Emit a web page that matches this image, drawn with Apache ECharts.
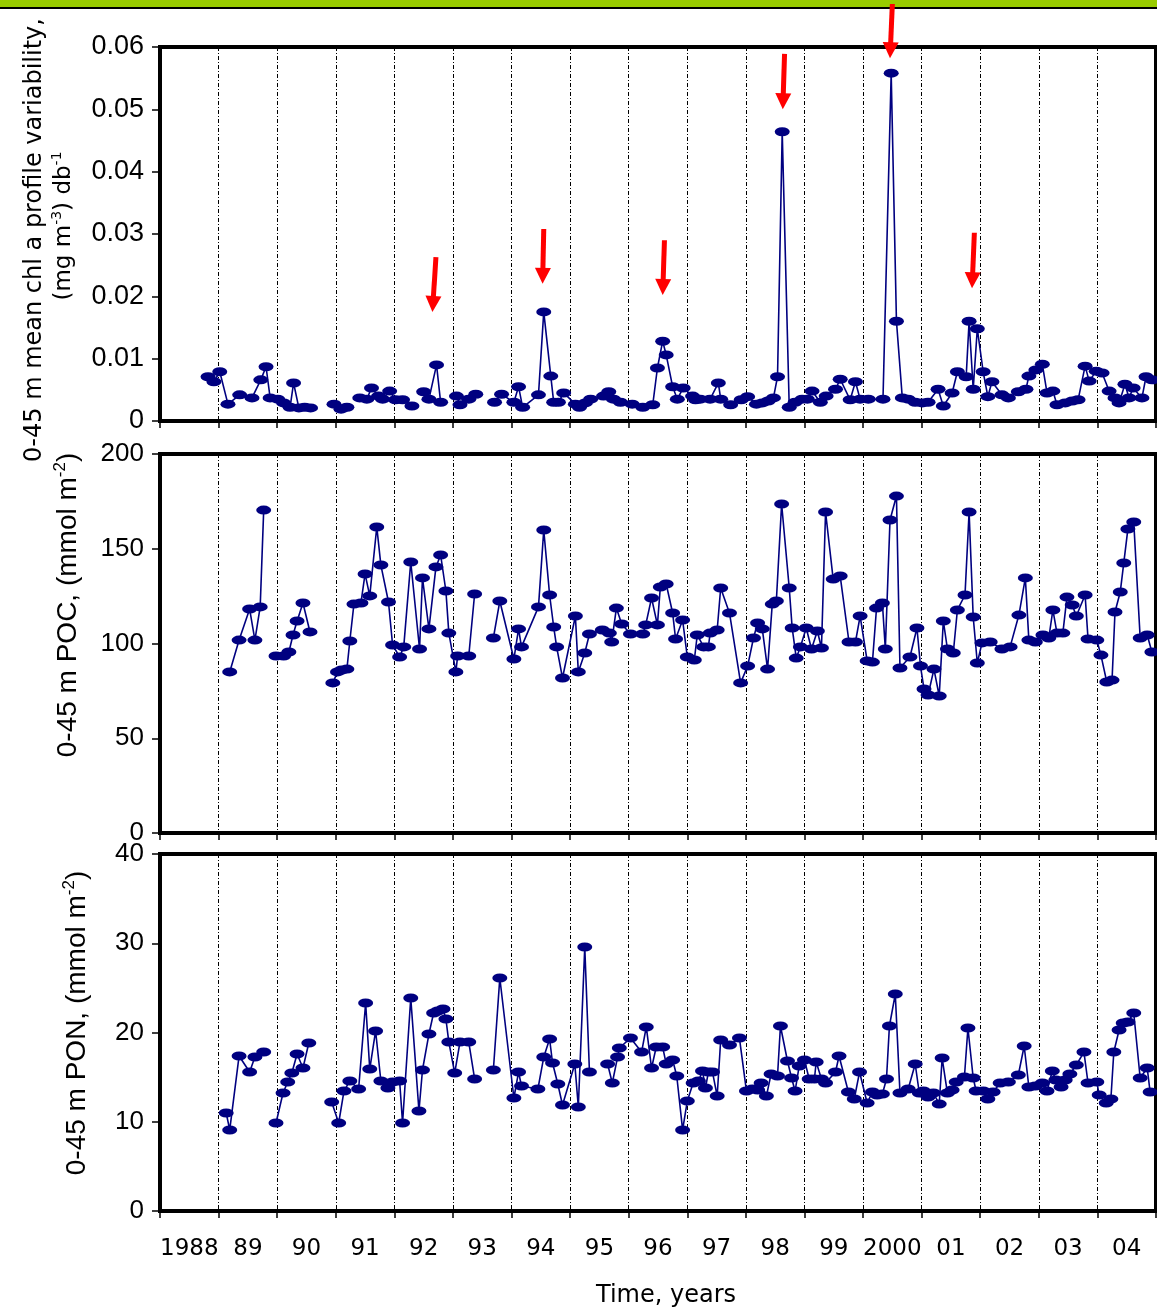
<!DOCTYPE html>
<html>
<head>
<meta charset="utf-8">
<title>0-45 m chl a variability, POC and PON time series</title>
<script src="https://cdn.jsdelivr.net/npm/echarts@6/dist/echarts.min.js"></script>
<style>
  html, body { margin: 0; padding: 0; background: #ffffff; }
  #chart { width: 1157px; height: 1312px; }
</style>
</head>
<body>
<div id="chart"></div>
<script>
// Year labels shown under the bottom panel, one per calendar year
const yearLabels = ['1988', '89', '90', '91', '92', '93', '94', '95', '96', '97', '98', '99', '2000', '01', '02', '03', '04'];

// 0-45 m mean chl a profile variability (mg m-3 db-1); null marks a gap in the record
const chlYear = [
  1988.82, 1988.92, 1989.02, 1989.16, 1989.36, 1989.57, 1989.72, 1989.81, 1989.88,
  1990.01, 1990.11, 1990.22, 1990.28, 1990.37, 1990.47, 1990.57, null,
  1990.97, 1991.09, 1991.19, null,
  1991.41, 1991.53, 1991.61, 1991.73, 1991.80, 1991.92, 1992.02, 1992.14, 1992.30, null,
  1992.50, 1992.59, 1992.72, 1992.79, null,
  1993.06, 1993.12, 1993.27, 1993.39, null,
  1993.71, 1993.83, 1994.04, 1994.12, 1994.19, 1994.46, 1994.55, 1994.67, 1994.72, 1994.80,
  1994.89, 1995.09, 1995.16, 1995.26, 1995.35, 1995.57, 1995.66, 1995.74, 1995.86, 1996.06,
  1996.24, 1996.41, 1996.49, 1996.58, 1996.64, 1996.75, 1996.83, 1996.93, 1997.09, 1997.14,
  1997.22, 1997.39, 1997.53, 1997.57, 1997.74, 1997.92, 1998.03, 1998.18, 1998.28, 1998.38,
  1998.47, 1998.54, 1998.62, 1998.74, 1998.84, 1998.96, 1999.05, 1999.13, 1999.27, 1999.37,
  1999.53, 1999.61, 1999.78, 1999.87, 1999.95, 2000.09, 2000.34, 2000.48, 2000.57, 2000.67,
  2000.77, 2000.89, 2001.01, 2001.11, 2001.28, 2001.37, 2001.52, 2001.61, 2001.76, 2001.81,
  2001.88, 2001.95, 2002.05, 2002.13, 2002.20, 2002.37, 2002.48, 2002.65, 2002.78, 2002.83,
  2002.95, 2003.06, 2003.14, 2003.24, 2003.31, 2003.45, 2003.57, 2003.67, 2003.79, 2003.86,
  2003.98, 2004.08, 2004.20, 2004.30, 2004.37, 2004.47, 2004.54, 2004.61, 2004.76, 2004.83,
  2004.93
];
const chlValue = [
  0.0071, 0.0063, 0.0079, 0.0027, 0.0042, 0.0037, 0.0066, 0.0087, 0.0037,
  0.0035, 0.0029, 0.0022, 0.0061, 0.0021, 0.0022, 0.0021, null,
  0.0027, 0.0019, 0.0022, null,
  0.0037, 0.0035, 0.0053, 0.0040, 0.0035, 0.0048, 0.0034, 0.0034, 0.0024, null,
  0.0047, 0.0035, 0.0090, 0.0030, null,
  0.0040, 0.0026, 0.0035, 0.0043, null,
  0.0030, 0.0043, 0.0030, 0.0055, 0.0022, 0.0042, 0.0175, 0.0072, 0.0030, 0.0030,
  0.0045, 0.0027, 0.0022, 0.0029, 0.0035, 0.0040, 0.0047, 0.0035, 0.0030, 0.0027,
  0.0022, 0.0026, 0.0085, 0.0128, 0.0106, 0.0055, 0.0035, 0.0053, 0.0040, 0.0034,
  0.0035, 0.0035, 0.0061, 0.0035, 0.0026, 0.0034, 0.0039, 0.0027, 0.0029, 0.0032,
  0.0037, 0.0071, 0.0464, 0.0022, 0.0030, 0.0035, 0.0035, 0.0048, 0.0030, 0.0040,
  0.0051, 0.0067, 0.0034, 0.0063, 0.0035, 0.0035, 0.0035, 0.0558, 0.0160, 0.0037,
  0.0035, 0.0030, 0.0029, 0.0030, 0.0051, 0.0024, 0.0045, 0.0079, 0.0071, 0.0160,
  0.0051, 0.0148, 0.0079, 0.0039, 0.0063, 0.0042, 0.0037, 0.0047, 0.0051, 0.0072,
  0.0082, 0.0091, 0.0045, 0.0048, 0.0026, 0.0029, 0.0032, 0.0034, 0.0088, 0.0064,
  0.0080, 0.0077, 0.0048, 0.0037, 0.0029, 0.0059, 0.0037, 0.0053, 0.0037, 0.0071,
  0.0066
];

// Red arrows flagging the chl a variability events: tail and head positions
const arrowTailYear = [1992.71, 1994.55, 1996.61, 1998.66, 2000.50, 2001.90];
const arrowTailValue = [0.0263, 0.0308, 0.0290, 0.0589, 0.0669, 0.0302];
const arrowHeadYear = [1992.65, 1994.53, 1996.58, 1998.63, 2000.46, 2001.86];
const arrowHeadValue = [0.0175, 0.0220, 0.0202, 0.0500, 0.0582, 0.0213];

// 0-45 m integrated POC (mmol m-2)
const pocYear = [
  1989.19, 1989.35, 1989.53, 1989.62, 1989.71, 1989.77, null,
  1989.98, 1990.11, 1990.20, 1990.27, 1990.34, 1990.44, 1990.56, null,
  1990.95, 1991.03, 1991.10, 1991.19, 1991.24, 1991.31, 1991.43, 1991.50, 1991.58, 1991.70,
  1991.77, 1991.90, 1991.97, 1992.09, 1992.16, 1992.28, 1992.43, 1992.48, 1992.59, 1992.71,
  1992.79, 1992.88, 1992.93, 1993.05, 1993.08, 1993.27, 1993.37, null,
  1993.69, 1993.80, 1994.04, 1994.12, 1994.17, 1994.46, 1994.55, 1994.65, 1994.72, 1994.77,
  1994.87, 1995.09, 1995.14, 1995.25, 1995.33, 1995.55, 1995.67, 1995.71, 1995.79, 1995.88,
  1996.03, 1996.24, 1996.29, 1996.39, 1996.49, 1996.54, 1996.64, 1996.75, 1996.80, 1996.92,
  1997.00, 1997.12, 1997.17, 1997.28, 1997.36, 1997.39, 1997.51, 1997.57, 1997.72, 1997.91,
  1998.03, 1998.13, 1998.20, 1998.28, 1998.37, 1998.45, 1998.52, 1998.61, 1998.74, 1998.79,
  1998.86, 1998.93, 1999.03, 1999.12, 1999.22, 1999.29, 1999.36, 1999.49, 1999.61, 1999.76,
  1999.87, 1999.95, 2000.07, 2000.16, 2000.23, 2000.33, 2000.38, 2000.46, 2000.57, 2000.63,
  2000.80, 2000.92, 2000.98, 2001.04, 2001.11, 2001.21, 2001.30, 2001.37, 2001.44, 2001.54,
  2001.61, 2001.74, 2001.81, 2001.88, 2001.95, 2002.03, 2002.17, 2002.37, 2002.51, 2002.66,
  2002.77, 2002.83, 2002.94, 2003.07, 2003.17, 2003.24, 2003.31, 2003.41, 2003.48, 2003.57,
  2003.64, 2003.79, 2003.84, 2003.99, 2004.06, 2004.16, 2004.25, 2004.30, 2004.39, 2004.45,
  2004.52, 2004.62, 2004.73, 2004.85, 2004.93
];
const pocValue = [
  85.0, 101.8, 118.2, 101.8, 119.3, 170.4, null,
  93.4, 93.4, 95.5, 104.5, 111.9, 121.4, 106.1, null,
  79.2, 85.0, 86.0, 86.5, 101.3, 120.8, 121.4, 136.7, 125.1, 161.5,
  141.4, 121.9, 99.2, 92.9, 98.2, 143.0, 97.1, 134.6, 107.7, 140.4,
  146.7, 127.7, 105.5, 85.0, 93.4, 93.4, 126.1, null,
  102.9, 122.4, 91.8, 107.7, 98.2, 119.3, 159.9, 125.6, 108.7, 98.2,
  81.8, 114.5, 85.0, 95.0, 105.0, 107.1, 105.5, 100.8, 118.7, 110.3,
  105.0, 105.0, 109.8, 124.0, 109.8, 129.8, 131.4, 116.1, 102.4, 112.4,
  92.9, 91.3, 104.5, 98.2, 98.2, 105.5, 107.1, 129.3, 116.1, 79.2,
  88.1, 102.9, 110.8, 107.7, 86.5, 120.8, 122.4, 173.6, 129.3, 108.2,
  92.3, 98.2, 108.2, 97.1, 106.6, 97.6, 169.4, 134.0, 135.6, 100.8,
  100.8, 114.5, 90.8, 90.2, 118.7, 121.4, 97.1, 165.2, 177.8, 87.1,
  92.9, 108.2, 88.1, 76.0, 72.8, 86.5, 72.3, 111.9, 97.1, 95.0,
  117.7, 125.6, 169.4, 114.0, 89.7, 100.3, 100.8, 97.1, 98.2, 115.0,
  134.6, 101.8, 100.8, 104.5, 102.9, 117.7, 105.5, 105.5, 124.5, 120.3,
  114.5, 125.6, 102.4, 101.8, 93.9, 79.7, 80.7, 116.6, 127.2, 142.5,
  160.4, 164.1, 102.9, 104.5, 95.5
];

// 0-45 m integrated PON (mmol m-2)
const ponYear = [
  1989.13, 1989.19, 1989.35, 1989.53, 1989.62, 1989.77, null,
  1989.98, 1990.10, 1990.18, 1990.25, 1990.34, 1990.44, 1990.54, null,
  1990.93, 1991.05, 1991.14, 1991.24, 1991.39, 1991.51, 1991.58, 1991.68, 1991.77, 1991.89,
  1991.97, 1992.09, 1992.14, 1992.28, 1992.42, 1992.48, 1992.59, 1992.67, 1992.74, 1992.83,
  1992.88, 1992.93, 1993.03, 1993.12, 1993.27, 1993.37, null,
  1993.69, 1993.80, 1994.04, 1994.12, 1994.17, 1994.45, 1994.55, 1994.65, 1994.70, 1994.79,
  1994.87, 1995.08, 1995.14, 1995.25, 1995.33, null,
  1995.64, 1995.72, 1995.81, 1995.84, 1996.03, 1996.22, 1996.30, 1996.39, 1996.47, 1996.58,
  1996.64, 1996.75, 1996.82, 1996.92, 1997.00, 1997.10, 1997.19, 1997.26, 1997.31, 1997.36,
  1997.43, 1997.51, 1997.57, 1997.72, 1997.89, 1998.01, 1998.11, 1998.20, 1998.26, 1998.35,
  1998.43, 1998.54, 1998.59, 1998.71, 1998.78, 1998.84, 1998.91, 1999.00, 1999.08, 1999.17,
  1999.20, 1999.29, 1999.36, 1999.53, 1999.59, 1999.75, 1999.85, 1999.94, 2000.07, 2000.16,
  2000.24, 2000.33, 2000.40, 2000.45, 2000.55, 2000.63, 2000.77, 2000.89, 2000.96, 2001.03,
  2001.11, 2001.20, 2001.30, 2001.35, 2001.44, 2001.52, 2001.59, 2001.73, 2001.79, 2001.88,
  2001.93, 2002.05, 2002.13, 2002.22, 2002.34, 2002.48, 2002.65, 2002.75, 2002.83, 2002.94,
  2003.06, 2003.14, 2003.23, 2003.29, 2003.38, 2003.45, 2003.53, 2003.64, 2003.77, 2003.84,
  2003.99, 2004.03, 2004.15, 2004.23, 2004.28, 2004.37, 2004.44, 2004.52, 2004.62, 2004.73,
  2004.85, 2004.90
];
const ponValue = [
  10.98, 9.08, 17.37, 15.57, 17.25, 17.81, null,
  9.86, 13.22, 14.45, 15.46, 17.59, 16.02, 18.82, null,
  12.21, 9.86, 13.44, 14.57, 13.67, 23.30, 15.91, 20.17, 14.57, 13.78,
  14.45, 14.57, 9.86, 23.86, 11.20, 15.80, 19.83, 22.18, 22.41, 22.63,
  21.51, 18.93, 15.46, 18.93, 18.93, 14.79, null,
  15.80, 26.11, 12.66, 15.57, 14.01, 13.67, 17.25, 19.27, 16.58, 14.23,
  11.88, 16.47, 11.65, 29.58, 15.57, null,
  16.47, 14.34, 17.25, 18.26, 19.38, 17.81, 20.62, 16.02, 18.37, 18.37,
  16.47, 16.92, 15.13, 9.08, 12.32, 14.34, 14.57, 15.69, 13.78, 15.57,
  15.57, 12.88, 19.16, 18.60, 19.38, 13.44, 13.67, 13.56, 14.34, 12.88,
  15.35, 15.13, 20.73, 16.81, 14.90, 13.44, 16.25, 16.92, 14.79, 14.79,
  16.69, 14.79, 14.34, 15.57, 17.37, 13.33, 12.55, 15.57, 12.10, 13.33,
  13.00, 13.11, 14.79, 20.73, 24.31, 13.22, 13.67, 16.47, 13.22, 13.44,
  12.77, 13.22, 11.99, 17.14, 13.22, 13.56, 14.45, 15.01, 20.50, 14.90,
  13.44, 13.44, 12.55, 13.33, 14.34, 14.45, 15.24, 18.49, 13.89, 14.01,
  14.34, 13.44, 15.69, 14.68, 13.89, 14.68, 15.35, 16.36, 17.81, 14.34,
  14.45, 13.00, 12.10, 12.55, 17.81, 20.28, 21.06, 21.18, 22.18, 14.90,
  16.02, 13.33
];

// Pair up time and value; a null entry becomes a break in the line
function toPoints(years, values) {
  return years.map(function (t, i) {
    return (t === null || values[i] === null) ? ['-', '-'] : [t, values[i]];
  });
}

const NAVY = '#000080';
const tickFont = '"Liberation Sans", Arial, sans-serif';
const handFont = '"Comic Sans MS", "DejaVu Sans", sans-serif';
// Flattened oval used as the sample marker
const ovalSymbol = 'path://M0,5A5,5,0,1,1,10,5A5,5,0,1,1,0,5Z';

const gridBox = { left: 160, right: 1, show: true, borderColor: '#000', borderWidth: 4,
                  backgroundColor: 'transparent', outerBoundsMode: 'none' };

function timeAxis(gridIndex) {
  return {
    type: 'value', gridIndex: gridIndex, position: 'bottom',
    min: 1988, max: 2005, interval: 1,
    axisLine: { show: false },
    axisTick: { show: true, inside: false, length: 7, lineStyle: { color: '#000', width: 1.5 } },
    axisLabel: { show: false },
    splitLine: { show: true, lineStyle: { color: '#000', width: 1, type: [4, 2, 1, 2] } }
  };
}

function valueAxis(gridIndex, max, interval, fontSize) {
  return {
    type: 'value', gridIndex: gridIndex, min: 0, max: max, interval: interval,
    axisLine: { show: false },
    axisTick: { show: true, inside: false, length: 8, lineStyle: { color: '#000', width: 1.5 } },
    axisLabel: { margin: 16, fontSize: fontSize, fontFamily: tickFont, color: '#000' },
    splitLine: { show: false }
  };
}

function timeSeries(axisIndex, points) {
  return {
    type: 'line', xAxisIndex: axisIndex, yAxisIndex: axisIndex, data: points,
    symbol: ovalSymbol, symbolSize: [15, 9], showSymbol: true, showAllSymbol: true,
    connectNulls: false, clip: false,
    itemStyle: { color: NAVY },
    lineStyle: { color: NAVY, width: 1.6 },
    emphasis: { disabled: true }, silent: true, z: 3
  };
}

// Arrow marks: shaft plus triangular head, placed with the panel's own scales
function renderArrow(params, api) {
  const a = api.coord([api.value(0), api.value(1)]);
  const b = api.coord([api.value(2), api.value(3)]);
  const dx = b[0] - a[0], dy = b[1] - a[1];
  const len = Math.sqrt(dx * dx + dy * dy) || 1;
  const ux = dx / len, uy = dy / len;
  const headLen = 16, headHalf = 8;
  const bx = b[0] - ux * headLen, by = b[1] - uy * headLen;
  const nx = -uy, ny = ux;
  return {
    type: 'group',
    children: [
      { type: 'line', shape: { x1: a[0], y1: a[1], x2: bx + ux * 2, y2: by + uy * 2 },
        style: { stroke: '#ff0000', lineWidth: 5 } },
      { type: 'polygon',
        shape: { points: [[b[0], b[1]], [bx + nx * headHalf, by + ny * headHalf], [bx - nx * headHalf, by - ny * headHalf]] },
        style: { fill: '#ff0000' } }
    ]
  };
}

const richTitle = function (size, family) {
  return {
    n: { fontSize: size, fontFamily: family, fill: '#000', verticalAlign: 'bottom', lineHeight: size + 3 },
    s: { fontSize: Math.round(size * 0.62), fontFamily: family, fill: '#000', verticalAlign: 'top' }
  };
};

function verticalTitle(x, y, text, size, family) {
  return {
    type: 'text', x: x, y: y, rotation: Math.PI / 2, silent: true,
    style: {
      text: text, rich: richTitle(size, family),
      fontSize: size, fontFamily: family, fill: '#000',
      align: 'center', verticalAlign: 'middle', textAlign: 'center', textVerticalAlign: 'middle'
    }
  };
}

const chart = echarts.init(document.getElementById('chart'), null, { renderer: 'canvas' });

chart.setOption({
  animation: false,
  backgroundColor: '#ffffff',
  grid: [
    Object.assign({ top: 47, height: 374 }, gridBox),
    Object.assign({ top: 454, height: 379 }, gridBox),
    Object.assign({ top: 854, height: 357 }, gridBox)
  ],
  xAxis: [
    timeAxis(0), timeAxis(1), timeAxis(2),
    {
      type: 'category', gridIndex: 2, position: 'bottom', data: yearLabels, boundaryGap: true,
      axisLine: { show: false }, axisTick: { show: false }, splitLine: { show: false },
      axisLabel: { interval: 0, margin: 27, fontSize: 23, fontFamily: handFont, color: '#000' },
      name: 'Time, years', nameLocation: 'middle', nameGap: 73,
      nameTextStyle: { fontSize: 24, fontFamily: handFont, color: '#000', padding: [0, 0, 0, 16] }
    }
  ],
  yAxis: [
    valueAxis(0, 0.06, 0.01, 27),
    valueAxis(1, 200, 50, 26),
    valueAxis(2, 40, 10, 26)
  ],
  series: [
    timeSeries(0, toPoints(chlYear, chlValue)),
    timeSeries(1, toPoints(pocYear, pocValue)),
    timeSeries(2, toPoints(ponYear, ponValue)),
    {
      type: 'custom', xAxisIndex: 0, yAxisIndex: 0, clip: false, silent: true, z: 5,
      data: arrowTailYear.map(function (t, i) {
        return [t, arrowTailValue[i], arrowHeadYear[i], arrowHeadValue[i]];
      }),
      encode: { x: [0, 2], y: [1, 3] },
      renderItem: renderArrow
    }
  ],
  graphic: [
    { type: 'rect', left: 0, top: 0, silent: true, shape: { width: 1157, height: 7 }, style: { fill: '#99cc00' } },
    { type: 'rect', left: 0, top: 7, silent: true, shape: { width: 1157, height: 2 }, style: { fill: '#000' } },
    verticalTitle(33, 240, '{n|0-45 m mean chl a profile variability,}', 24, handFont),
    verticalTitle(63, 226, '{n|(mg m}{s|-3}{n|) db}{s|-1}', 23, handFont),
    verticalTitle(67, 605, '{n|0-45 m POC, (mmol m}{s|-2}{n|)}', 28, tickFont),
    verticalTitle(76, 1023, '{n|0-45 m PON, (mmol m}{s|-2}{n|)}', 28, tickFont)
  ]
});
</script>
</body>
</html>
